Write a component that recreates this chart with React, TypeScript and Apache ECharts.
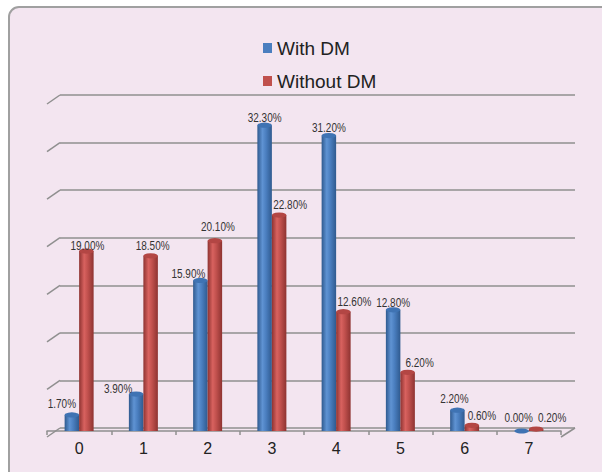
import React, { useEffect, useRef } from "react";
import * as echarts from "echarts";

const categories = ["0", "1", "2", "3", "4", "5", "6", "7"];
const withDM = [1.7, 3.9, 15.9, 32.3, 31.2, 12.8, 2.2, 0.0];
const withoutDM = [19.0, 18.5, 20.1, 22.8, 12.6, 6.2, 0.6, 0.2];
const seriesNames = ["With DM", "Without DM"];
const yMax = 35;
const yInterval = 5;

// label nudges (layout only)
const blueLabelOffsets = [[-10, -4], [-18, 1], [-12, 0], [0, -1], [0, -1], [0, 0], [-3, -5], [-3, -7]];
const redLabelOffsets = [[1, 1], [2, -3], [3, -7], [11, -4], [11, -3], [12, -3], [10, -3], [16, -5]];

const FONT = "'Liberation Sans', Arial, sans-serif";
const BAR_W = 14.5;

function cyl(dark: string, light: string, mid: string) {
  return new echarts.graphic.LinearGradient(0, 0, 1, 0, [
    { offset: 0, color: dark },
    { offset: 0.35, color: light },
    { offset: 0.6, color: mid },
    { offset: 1, color: dark },
  ]);
}

function labelSeries(name: string, values: number[], offsets: number[][], shift: number) {
  return {
    type: "custom",
    name,
    xAxisIndex: 1,
    yAxisIndex: 1,
    silent: true,
    z: 6,
    data: values.map((v, i) => [i, v]),
    encode: { x: 0, y: 1 },
    renderItem: (params: any, api: any) => {
      const i = api.value(0);
      const v = api.value(1);
      const p = api.coord([i, v]);
      const off = offsets[i] || [0, 0];
      return {
        type: "text",
        x: p[0] + shift + off[0],
        y: p[1] - 7 + off[1],
        scaleX: 0.74,
        style: {
          text: Number(v).toFixed(2) + "%",
          fontSize: 13.5,
          fontFamily: FONT,
          fill: "#333",
          align: "center",
          verticalAlign: "middle",
        },
      };
    },
  };
}

export default function App() {
  const ref = useRef<HTMLDivElement>(null);
  useEffect(() => {
    if (!ref.current) return;
    const chart = echarts.init(ref.current, undefined, { renderer: "svg" });
    const ticks: number[] = [];
    for (let v = 0; v <= yMax; v += yInterval) ticks.push(v);

    const option: any = {
      animation: false,
      backgroundColor: "#ffffff",
      graphic: [
        {
          type: "rect",
          z: -10,
          silent: true,
          shape: { x: 9, y: 7, width: 700, height: 600, r: 10 },
          style: { fill: "#f3e5f0", stroke: "#a0a0a0", lineWidth: 2 },
        },
      ],
      legend: {
        orient: "vertical",
        left: 258,
        top: 32,
        itemWidth: 9,
        itemHeight: 10,
        itemGap: 11,
        icon: "rect",
        textStyle: { fontSize: 19, lineHeight: 22, fontFamily: FONT, color: "#222" },
        data: [
          { name: seriesNames[0], itemStyle: { color: "#4a7ebf" } },
          { name: seriesNames[1], itemStyle: { color: "#c0504d" } },
        ],
      },
      grid: [
        { left: 60, right: 27, top: 95, bottom: 44 },
        { left: 47, right: 41, top: 99.6, bottom: 41 },
      ],
      xAxis: [
        { gridIndex: 0, type: "value", min: 0, max: 1, show: false },
        {
          gridIndex: 1,
          type: "category",
          data: categories,
          offset: 5,
          axisLine: { lineStyle: { color: "#8f8f8f", width: 1.5 } },
          axisTick: { show: true, length: 4, lineStyle: { color: "#8f8f8f", width: 1.5 } },
          axisLabel: { margin: 4, fontSize: 16, fontFamily: FONT, color: "#222" },
        },
      ],
      yAxis: [
        {
          gridIndex: 0,
          type: "value",
          min: 0,
          max: yMax,
          interval: yInterval,
          axisLine: { show: false },
          axisTick: { show: false },
          axisLabel: { show: false },
          splitLine: { lineStyle: { color: "#8f8f8f", width: 1.5 } },
        },
        { gridIndex: 1, type: "value", min: 0, max: yMax, show: false, splitLine: { show: false } },
      ],
      series: [
        {
          type: "custom",
          name: "walls",
          xAxisIndex: 0,
          yAxisIndex: 0,
          silent: true,
          z: 1,
          data: ticks,
          encode: { y: 0 },
          renderItem: (params: any, api: any) => {
            const v = api.value(0);
            const p = api.coord([0, v]);
            const children: any[] = [
              {
                type: "line",
                shape: { x1: p[0] - 13, y1: p[1] + 9, x2: p[0], y2: p[1] },
                style: { stroke: "#8f8f8f", lineWidth: 1.5 },
              },
            ];
            if (v === 0) {
              const q = api.coord([1, 0]);
              children.push({
                type: "line",
                shape: { x1: q[0], y1: q[1], x2: q[0] - 14, y2: q[1] + 9 },
                style: { stroke: "#8f8f8f", lineWidth: 1.5 },
              });
            }
            return { type: "group", children };
          },
        },
        {
          type: "bar",
          name: seriesNames[0],
          xAxisIndex: 1,
          yAxisIndex: 1,
          barWidth: BAR_W,
          barGap: "0%",
          z: 3,
          itemStyle: { color: cyl("#2f5a8f", "#5f93d3", "#4a7ebf") },
          data: withDM,
        },
        {
          type: "bar",
          name: seriesNames[1],
          xAxisIndex: 1,
          yAxisIndex: 1,
          barWidth: BAR_W,
          barGap: "0%",
          z: 3,
          itemStyle: { color: cyl("#8e3331", "#d8625f", "#c0504d") },
          data: withoutDM,
        },
        {
          type: "pictorialBar",
          name: "capA",
          xAxisIndex: 1,
          yAxisIndex: 1,
          barWidth: BAR_W,
          barGap: "0%",
          z: 4,
          symbol: "circle",
          symbolSize: [BAR_W, 5],
          symbolPosition: "end",
          symbolOffset: [0, "-50%"],
          itemStyle: { color: "#3f73b3" },
          data: withDM,
        },
        {
          type: "pictorialBar",
          name: "capB",
          xAxisIndex: 1,
          yAxisIndex: 1,
          barWidth: BAR_W,
          barGap: "0%",
          z: 4,
          symbol: "circle",
          symbolSize: [BAR_W, 5],
          symbolPosition: "end",
          symbolOffset: [0, "-50%"],
          itemStyle: { color: "#b34644" },
          data: withoutDM,
        },
        labelSeries("labelsA", withDM, blueLabelOffsets, -BAR_W / 2),
        labelSeries("labelsB", withoutDM, redLabelOffsets, BAR_W / 2),
      ],
    };
    chart.setOption(option);
    return () => chart.dispose();
  }, []);
  return (
    <div
      ref={ref}
      style={{ position: "fixed", left: 0, top: 0, width: 602, height: 472 }}
    />
  );
}
